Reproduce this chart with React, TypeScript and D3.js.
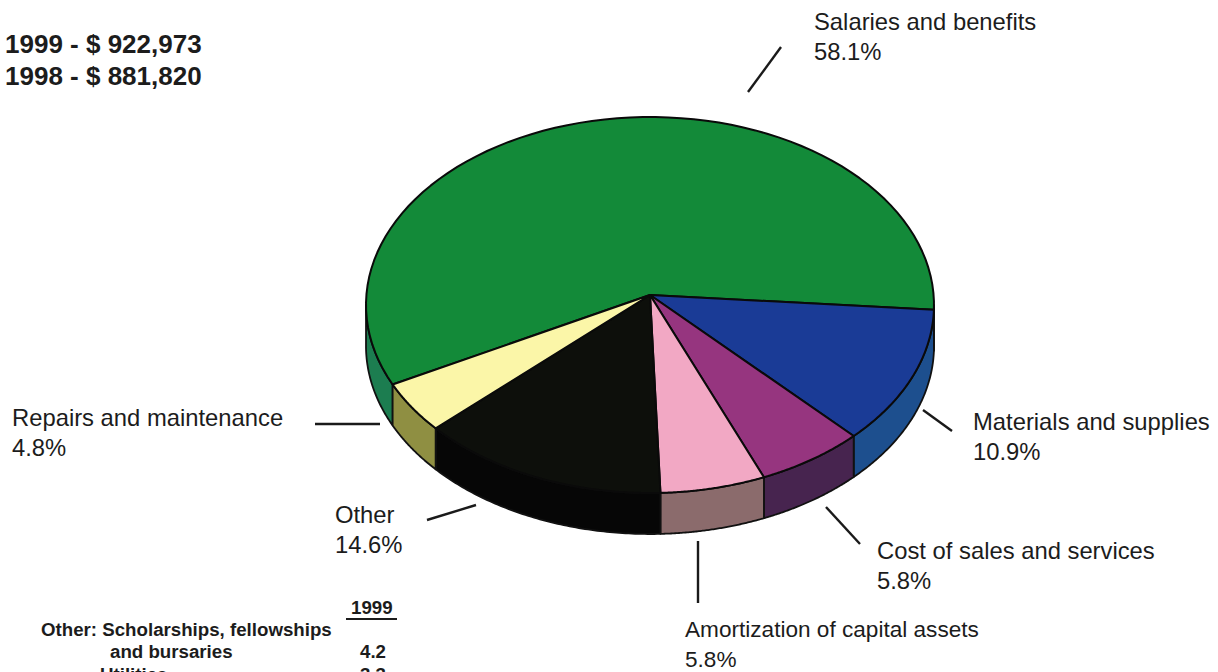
import React from "react";
import * as d3 from "d3";

const categories = ["Salaries and benefits", "Materials and supplies", "Cost of sales and services", "Amortization of capital assets", "Other", "Repairs and maintenance"];
const shares = [58.1, 10.9, 5.8, 5.8, 14.6, 4.8];
const topColours = ["#138a39", "#1a3b96", "#96357f", "#f2a8c4", "#0d0f0b", "#fbf6a8"];
const sideColours = ["#1c7d50", "#1d4f8e", "#47244f", "#8b6b6c", "#060606", "#8f8f42"];
const totals = ["1999 - $ 922,973", "1998 - $ 881,820"];

const labelPos: [number, number][] = [
  [814, 30], [973, 430], [877, 559], [685, 637], [335, 523], [12, 426],
];
const labelSize = [23.8, 23.8, 23.8, 22.6, 23.8, 23.8];
const labelShare = ["58.1%", "10.9%", "5.8%", "5.8%", "14.6%", "4.8%"];
const leaders = [
  [[781, 47], [748, 92]],
  [[952, 431], [923, 410]],
  [[860, 544], [826, 507]],
  [[698, 603], [698, 541]],
  [[427, 520], [476, 505]],
  [[315, 424], [380, 424]],
];

const cx = 650, cy = 305, rx = 284, ry = 188, depth = 41, apexY = 295;
const deg = Math.PI / 180;
const pieGen = d3.pie<number>().sort(null).value(d => d)
  .startAngle(-118.2 * deg)
  .endAngle(241.8 * deg);
// The perspective of the drawing crowds the front slices: warp the angle a little.
const warp = (t: number) => t + 0.5 * deg + 5.5 * deg * Math.sin(t - 91 * deg);
const arcs = pieGen(shares).map(d => ({ startAngle: warp(d.startAngle), endAngle: warp(d.endAngle) }));

const xS = d3.scaleLinear().domain([-1, 1]).range([cx - rx, cx + rx]);
const yS = d3.scaleLinear().domain([-1, 1]).range([cy - ry, cy + ry]);
const px = (t: number) => xS(Math.sin(t));
const py = (t: number, dz = 0) => yS(-Math.cos(t)) + dz;
const line = d3.line<[number, number]>();

const steps = (a: number, b: number) => d3.range(0, 81).map(i => a + ((b - a) * i) / 80);
const topPath = (a: number, b: number) =>
  line([[cx, apexY], ...steps(a, b).map(t => [px(t), py(t)] as [number, number])]) + "Z";
const sidePath = (a: number, b: number) => {
  const lo = Math.max(a, Math.PI / 2), hi = Math.min(b, (3 * Math.PI) / 2);
  if (hi <= lo) return null;
  const s = steps(lo, hi);
  return line([
    ...s.map(t => [px(t), py(t)] as [number, number]),
    ...[...s].reverse().map(t => [px(t), py(t, depth)] as [number, number]),
  ]) + "Z";
};
const two = Math.PI * 2;
const sideParts = arcs.flatMap((d, i) =>
  [-two, 0, two].flatMap(off => {
    const p = sidePath(d.startAngle + off, d.endAngle + off);
    return p ? [{ p, i }] : [];
  })
);

const font = '"Liberation Sans", Arial, sans-serif';

export default function App() {
  return (
    <svg width={1218} height={672} style={{ position: "absolute", left: 0, top: 0, background: "#fff" }}>
      {sideParts.map((s, k) => (
        <path key={k} d={s.p} fill={sideColours[s.i]} stroke="#111" strokeWidth={1.8} strokeLinejoin="round" />
      ))}
      {arcs.map((d, i) => (
        <path key={i} d={topPath(d.startAngle, d.endAngle)} fill={topColours[i]} stroke="#0a0a0a" strokeWidth={2} strokeLinejoin="round" />
      ))}
      {leaders.map((l, i) => (
        <line key={i} x1={l[0][0]} y1={l[0][1]} x2={l[1][0]} y2={l[1][1]} stroke="#1a1a1a" strokeWidth={2.4} />
      ))}
      <g fontFamily={font} fill="#1c1c1c">
        {categories.map((c, i) => (
          <g key={c} fontSize={labelSize[i]}>
            <text x={labelPos[i][0]} y={labelPos[i][1]}>{c}</text>
            <text x={labelPos[i][0]} y={labelPos[i][1] + 30}>{labelShare[i]}</text>
          </g>
        ))}
      </g>
      <g fontFamily={font} fontSize={26} fontWeight="bold" fill="#1c1c1c">
        {totals.map((t, i) => <text key={t} x={5} y={53 + i * 32}>{t}</text>)}
      </g>
      <g fontFamily={font} fontSize={18.7} fontWeight="bold" fill="#1c1c1c">
        <text x={351} y={614}>1999</text>
        <text x={41} y={636}>Other: Scholarships, fellowships</text>
        <text x={110} y={658}>and bursaries</text>
        <text x={360} y={658}>4.2</text>
        <text x={100} y={681}>Utilities</text>
        <text x={360} y={681}>3.3</text>
      </g>
      <line x1={346} y1={619} x2={397} y2={619} stroke="#1c1c1c" strokeWidth={2} />
    </svg>
  );
}
